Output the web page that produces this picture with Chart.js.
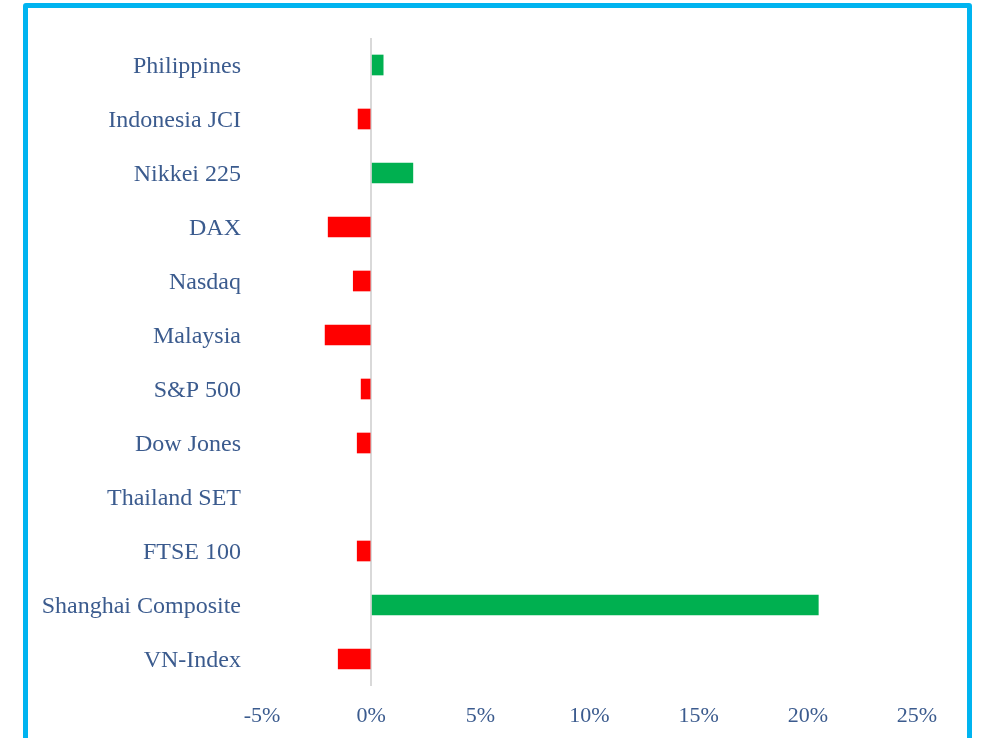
<!DOCTYPE html>
<html>
<head>
<meta charset="utf-8">
<script src="https://cdn.jsdelivr.net/npm/chart.js@4/dist/chart.umd.min.js"></script>
<style>
  html, body { margin: 0; padding: 0; background: #fff; overflow: hidden; }
  #wrap { position: relative; width: 981px; height: 738px; }
  #frame { position: absolute; left: 23px; top: 3px; width: 939px; height: 800px; border: 5px solid #00B4F0; border-radius: 3px; pointer-events: none; }
  canvas { position: absolute; left: 0; top: 0; }
</style>
</head>
<body>
<div id="wrap">
  <canvas id="c" width="981" height="738"></canvas>
  <div id="frame"></div>
</div>
<script>
const categories = ["Philippines", "Indonesia JCI", "Nikkei 225", "DAX", "Nasdaq", "Malaysia", "S&P 500", "Dow Jones", "Thailand SET", "FTSE 100", "Shanghai Composite", "VN-Index"];
const changes = [0.55, -0.6, 1.91, -1.97, -0.82, -2.11, -0.46, -0.64, 0, -0.64, 20.48, -1.51];
const xTicks = [-5, 0, 5, 10, 15, 20, 25];

const textColor = '#3B5B8E';
const serif = '"Liberation Serif", "Times New Roman", serif';

new Chart(document.getElementById('c'), {
  type: 'bar',
  data: {
    labels: categories,
    datasets: [{
      data: changes,
      backgroundColor: changes.map(v => v > 0 ? '#00B050' : (v < 0 ? '#FF0000' : 'rgba(0,0,0,0)')),
      barThickness: 20,
      borderWidth: 0
    }]
  },
  options: {
    indexAxis: 'y',
    responsive: false,
    animation: false,
    layout: { padding: { top: 38, right: 64, bottom: 0, left: 0 } },
    plugins: { legend: { display: false }, tooltip: { enabled: false } },
    scales: {
      x: {
        min: xTicks[0],
        max: xTicks[xTicks.length - 1],
        afterBuildTicks: s => { s.ticks = xTicks.map(v => ({ value: v })); },
        afterFit: s => { s.height = 52; },
        ticks: {
          callback: v => v + '%',
          color: textColor,
          font: { family: serif, size: 22 },
          padding: 17,
          maxRotation: 0
        },
        grid: {
          drawTicks: false,
          lineWidth: 2,
          color: ctx => (ctx.tick && ctx.tick.value === 0) ? '#D9D9D9' : 'rgba(0,0,0,0)'
        },
        border: { display: false }
      },
      y: {
        afterFit: s => { s.width = 262; },
        ticks: {
          color: textColor,
          font: { family: serif, size: 24 },
          padding: 21,
          labelOffset: 2,
          autoSkip: false
        },
        grid: { display: false, drawTicks: false },
        border: { display: false }
      }
    }
  }
});
</script>
</body>
</html>
